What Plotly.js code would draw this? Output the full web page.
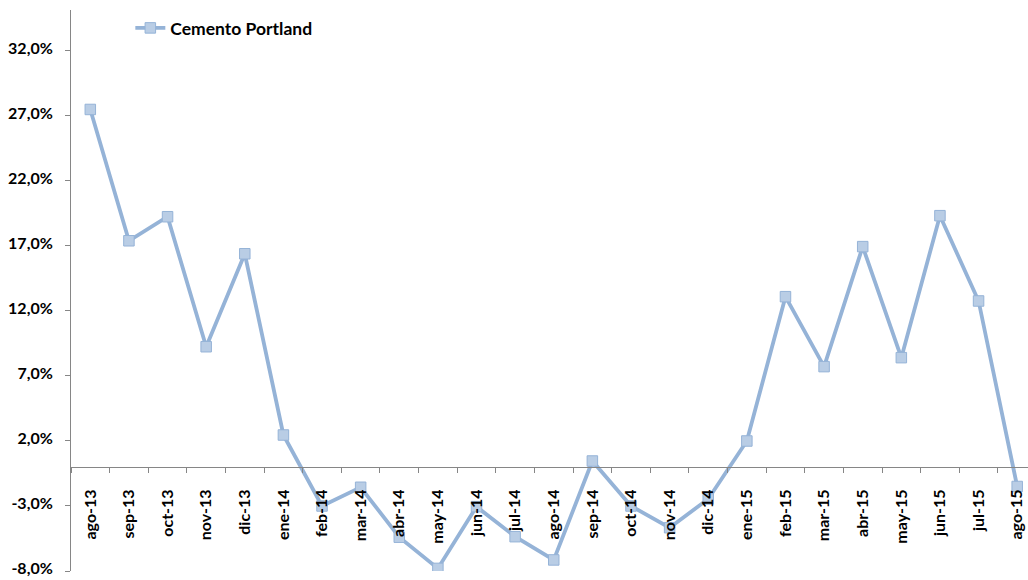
<!DOCTYPE html>
<html>
<head>
<meta charset="utf-8">
<script src="https://cdn.plot.ly/plotly-3.0.1.min.js"></script>
<style>html,body{margin:0;padding:0;background:#fff;}#chart{width:1028px;height:580px;}</style>
</head>
<body>
<div id="chart"></div>
<script>
const categories = ["ago-13","sep-13","oct-13","nov-13","dic-13","ene-14","feb-14","mar-14","abr-14","may-14","jun-14","jul-14","ago-14","sep-14","oct-14","nov-14","dic-14","ene-15","feb-15","mar-15","abr-15","may-15","jun-15","jul-15","ago-15"];
const cementoPortland = [27.5,17.4,19.25,9.25,16.4,2.46,-3.0,-1.56,-5.4,-7.8,-3.05,-5.36,-7.15,0.46,-3.0,-4.67,-2.46,2.0,13.1,7.72,16.95,8.41,19.33,12.77,-1.5];
const yTickVals = [-8,-3,2,7,12,17,22,27,32];
const yTickText = ["-8,0%","-3,0%","2,0%","7,0%","12,0%","17,0%","22,0%","27,0%","32,0%"];

const yMin = -8, yMax = 35.15;
const fontFam = "Lato, 'Open Sans', sans-serif";

const trace = {
  x: categories,
  y: cementoPortland,
  name: "Cemento Portland",
  type: "scatter",
  mode: "lines+markers",
  line: {color: "rgb(149,179,215)", width: 3.8},
  marker: {symbol: "square", size: 10.5, color: "rgb(185,205,229)", line: {color: "rgb(149,179,215)", width: 1}}
};

const layout = {
  width: 1028, height: 580,
  margin: {l: 71, r: 0, t: 10, b: 9},
  paper_bgcolor: "#fff", plot_bgcolor: "#fff",
  font: {family: fontFam, size: 16, color: "#000"},
  showlegend: true,
  legend: {x: 0.062, y: 1.0, xanchor: "left", yanchor: "top", bgcolor: "rgba(0,0,0,0)",
           font: {family: fontFam, size: 17.5, color: "#000", weight: "bold"}},
  xaxis: {
    type: "category",
    range: [-0.5, 24.28],
    anchor: "free",
    position: (0 - yMin) / (yMax - yMin),
    showline: true, linecolor: "#868686", linewidth: 1,
    showgrid: false, zeroline: false,
    ticks: "outside", ticklen: 5, tickcolor: "#868686", tickson: "boundaries",
    tickangle: -90, ticklabelstandoff: 15,
    tickfont: {family: fontFam, size: 16, color: "#000", weight: "bold"}
  },
  yaxis: {
    range: [yMin, yMax],
    showline: true, linecolor: "#868686", linewidth: 1,
    showgrid: false, zeroline: false,
    ticks: "outside", ticklen: 5, tickcolor: "#868686",
    tickvals: yTickVals, ticktext: yTickText,
    ticklabelstandoff: 9,
    ticklabelshift: -3,
    ticklabeloverflow: "allow",
    tickfont: {family: fontFam, size: 16, color: "#000", weight: "bold"}
  }
};

Plotly.newPlot("chart", [trace], layout, {displayModeBar: false, staticPlot: true});
</script>
</body>
</html>
